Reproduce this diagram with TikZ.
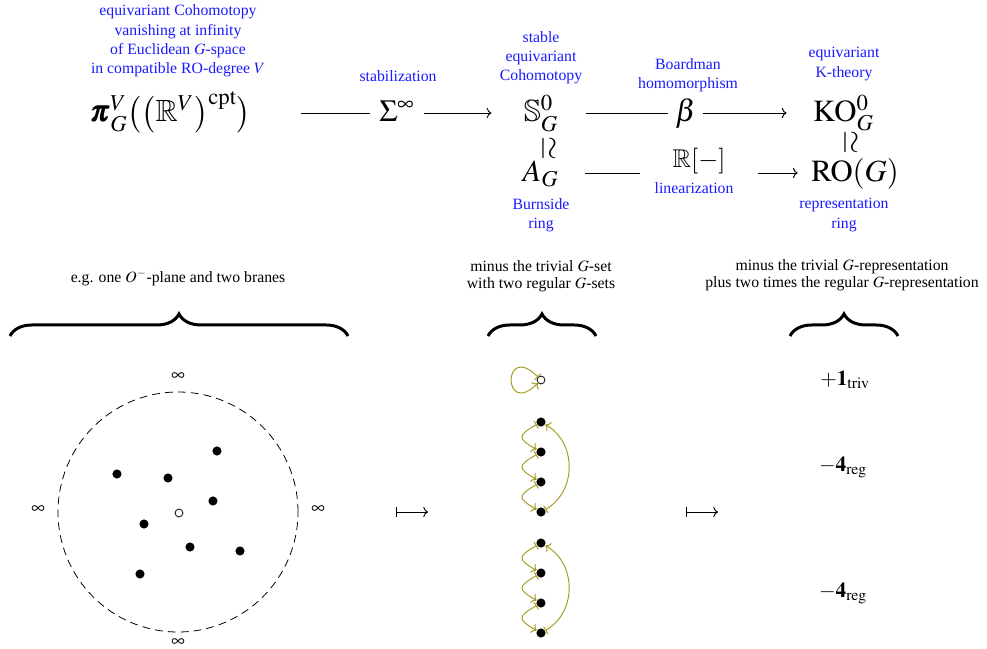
\documentclass[tikz,border=0pt]{standalone}
\usepackage{amsmath}
\usepackage{mathptmx}
\usepackage{amssymb}
\usepackage[no-math]{fontspec}
\setmainfont{Liberation Serif}
\usepackage{graphicx}
\usetikzlibrary{positioning, arrows.meta, decorations.pathreplacing}
\definecolor{labelBlue}{HTML}{1A1AFF}
\definecolor{actOlive}{HTML}{A39A1E}

\begin{document}
\begin{tikzpicture}[x=0.635pt, y=0.635pt, line width=0.6pt,
      >={To[length=3pt, width=6.5pt]},
      lbl/.style={text=labelBlue, align=center, font=\fontsize{10}{12.2}\selectfont},
      txt/.style={align=center, font=\fontsize{10}{11}\selectfont},
      bigmath/.style={font=\fontsize{19.5}{23}\selectfont, text height=17pt, text depth=5.6pt},
      midmath/.style={font=\fontsize{13.5}{16}\selectfont},
      gap/.style={fill=white, inner xsep=6pt, inner ysep=1pt},
      dot/.style={circle, fill=black, inner sep=0pt, minimum size=5.8pt},
      hole/.style={circle, draw=black, fill=white, inner sep=0pt, minimum size=5pt, line width=0.5pt},
      act/.style={draw=actOlive, |->, line width=0.6pt},
      brace/.style={decorate, decoration={brace, amplitude=14pt}, line width=1.9pt}
    ]
      \useasboundingbox (0,0) rectangle (987,-649);

      % top row: Cohomotopy to K-theory
      \node[lbl] (lcoh) at (178,-41) {equivariant Cohomotopy\\vanishing at infinity\\of Euclidean $G$-space\\in compatible RO-degree $V$};
      \node[bigmath] (pi) at (171,-113) {$\pmb{\pi}^V_G\big(\big(\mathbb{R}^V\big)^{\mathrm{cpt}}\big)$};
      \node[lbl] (lstab) at (398,-76) {stabilization};
      \node[lbl] (lstable) at (541,-57.5) {stable\\equivariant\\Cohomotopy};
      \node[bigmath] (S) at (541,-113) {$\mathbb{S}^0_G$};
      \node[lbl] (lboard) at (688,-75.5) {Boardman\\homomorphism};
      \node[lbl] (lK) at (844,-64) {equivariant\\K-theory};
      \node[bigmath] (KO) at (843.5,-113) {$\mathrm{KO}^0_G$};

      \draw[->, shorten <=28pt, shorten >=17pt] (pi) -- node[gap, bigmath, xshift=6pt] (sigma) {$\Sigma^\infty$} (S);
      \draw[->, shorten <=14pt, shorten >=13.3pt] (S) -- node[gap, bigmath, inner xsep=4.5pt] (beta) {$\beta$} (KO);

      \node[bigmath, text height=, text depth=] (iso1) at (548.5,-148.5) {\rotatebox{-90}{$\simeq$}};
      \node[bigmath, text height=, text depth=] (iso2) at (850.5,-142) {\rotatebox{-90}{$\simeq$}};

      % bottom row: Burnside ring to representation ring
      \node[bigmath] (A) at (540.5,-173) {$A_G$};
      \node[bigmath] (RO) at (855,-173) {$\mathrm{RO}(G)$};
      \draw[->, shorten <=13.3pt, shorten >=5pt] (A) -- node[font=\fontsize{16.3}{19}\selectfont, fill=white, inner xsep=21pt, text height=11pt, text depth=17.5pt, xshift=9pt] (rlin) {$\mathbb{R}[-]$} (RO);
      \node[lbl, anchor=base] (linz) at (694,-194) {linearization};
      \node[lbl] (lburn) at (541,-215) {Burnside\\ring};
      \node[lbl] (lrep) at (844,-215) {representation\\ring};

      % captions and braces
      \node[txt] (cap1) at (178,-278) {e.g. one $O^{-}$-plane and two branes};
      \node[txt] (cap2) at (541,-276) {minus the trivial $G$-set\\with two regular $G$-sets};
      \node[txt] (cap3) at (842,-275) {minus the trivial $G$-representation\\plus two times the regular $G$-representation};
      \coordinate (br1a) at (10,-336);
      \coordinate (br1b) at (348,-336);
      \coordinate (br2a) at (488,-336);
      \coordinate (br2b) at (596,-336);
      \coordinate (br3a) at (790,-336);
      \coordinate (br3b) at (898,-336);
      \draw[brace] (br1a) -- (br1b);
      \draw[brace] (br2a) -- (br2b);
      \draw[brace] (br3a) -- (br3b);

      % the plane with branes
      \draw[dashed, dash pattern=on 5pt off 3.2pt, line width=0.5pt] (178,-512) circle (120);
      \node[font=\fontsize{12}{14}\selectfont] (inft) at (178,-377) {$\infty$};
      \node[font=\fontsize{12}{14}\selectfont] (infl) at (38,-510) {$\infty$};
      \node[font=\fontsize{12}{14}\selectfont] (infr) at (318,-510) {$\infty$};
      \node[font=\fontsize{12}{14}\selectfont] (infb) at (178,-643) {$\infty$};
      \node[dot] (b1) at (217,-451) {};
      \node[dot] (b2) at (117,-474) {};
      \node[dot] (b3) at (168,-478) {};
      \node[dot] (b4) at (213,-501) {};
      \node[dot] (b5) at (144,-524) {};
      \node[dot] (b6) at (190,-547) {};
      \node[dot] (b7) at (240,-551) {};
      \node[dot] (b8) at (140,-574) {};
      \node[hole] (o1) at (179,-513) {};

      \coordinate (mapA) at (396,-512);
      \coordinate (mapB) at (428,-512);
      \coordinate (mapC) at (686,-512);
      \coordinate (mapD) at (718,-512);
      \draw[{Bar[width=6.5pt]}->] (mapA) -- (mapB);
      \draw[{Bar[width=6.5pt]}->] (mapC) -- (mapD);

      % G-sets
      \node[hole] (o2) at (541,-380) {};
      \draw[act] (o2) to[out=135, in=225, min distance=32pt] (o2);
      \node[dot] (m1) at (541,-422) {};
      \node[dot] (m2) at (541,-452) {};
      \node[dot] (m3) at (541,-482) {};
      \node[dot] (m4) at (541,-512) {};
      \draw[act] (m1) to[out=210, in=150, looseness=2.3] (m2);
      \draw[act] (m2) to[out=210, in=150, looseness=2.3] (m3);
      \draw[act] (m3) to[out=210, in=150, looseness=2.3] (m4);
      \draw[act] (m4) to[out=30, in=-30, looseness=1.1] (m1);
      \node[dot] (n1) at (541,-543) {};
      \node[dot] (n2) at (541,-573) {};
      \node[dot] (n3) at (541,-603) {};
      \node[dot] (n4) at (541,-633) {};
      \draw[act] (n1) to[out=210, in=150, looseness=2.3] (n2);
      \draw[act] (n2) to[out=210, in=150, looseness=2.3] (n3);
      \draw[act] (n3) to[out=210, in=150, looseness=2.3] (n4);
      \draw[act] (n4) to[out=30, in=-30, looseness=1.1] (n1);

      % representations
      \node[midmath] (triv) at (845,-380) {$+\mathbf{1}_{\mathrm{triv}}$};
      \node[midmath] (reg1) at (843,-467) {$-\mathbf{4}_{\mathrm{reg}}$};
      \node[midmath] (reg2) at (843,-593) {$-\mathbf{4}_{\mathrm{reg}}$};
    \end{tikzpicture}
\end{document}
